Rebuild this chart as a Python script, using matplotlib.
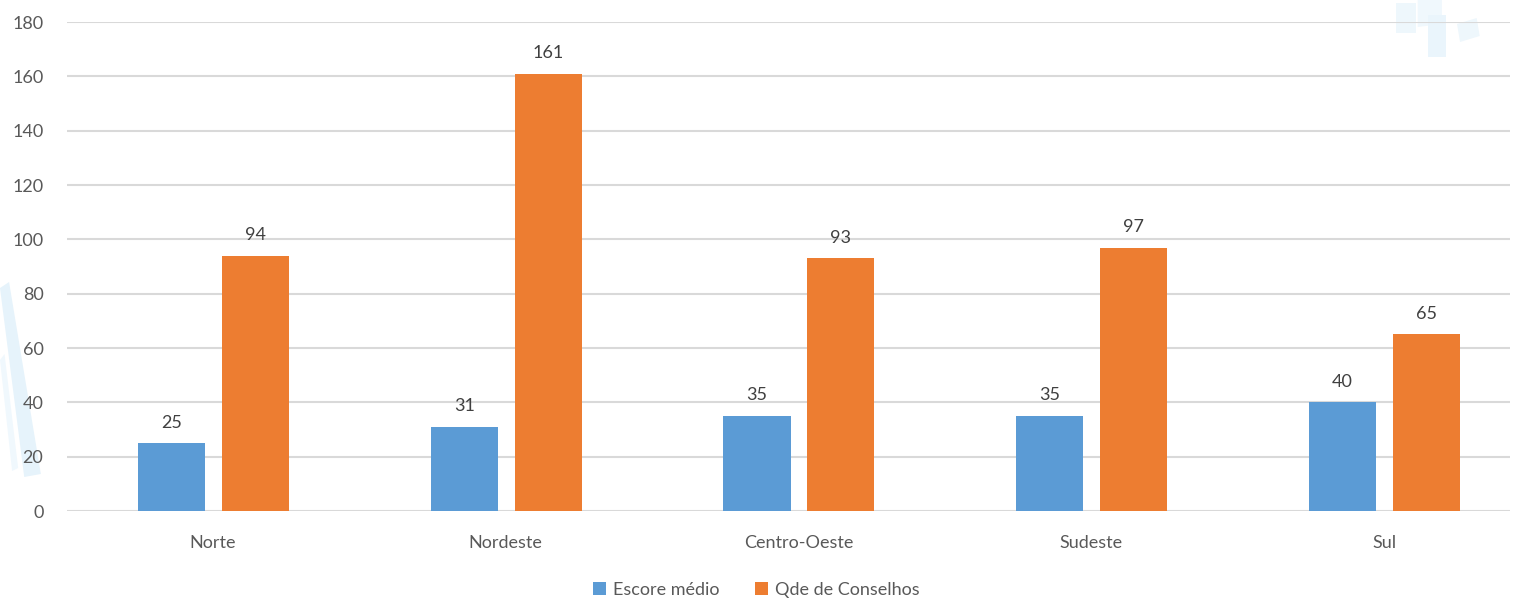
import matplotlib.pyplot as plt
from matplotlib.patches import Polygon
import numpy as np

regioes = ['Norte', 'Nordeste', 'Centro-Oeste', 'Sudeste', 'Sul']
escore_medio = [25, 31, 35, 35, 40]
qde_conselhos = [94, 161, 93, 97, 65]

azul = '#5B9BD5'
laranja = '#ED7D31'
cinza = '#595959'

plt.rcParams['font.family'] = ['Lato', 'DejaVu Sans']

fig = plt.figure(figsize=(15.13, 6), dpi=100)

# marca d'agua clara ao fundo
def fundo(pts, cor):
    fig.patches.append(Polygon(pts, closed=True, transform=fig.transFigure,
                               facecolor=cor, edgecolor='none', zorder=-5))

fundo([[0.0, 0.52], [0.006, 0.53], [0.027, 0.21], [0.016, 0.205]], '#E6F3FB')
fundo([[0.0, 0.40], [0.003, 0.41], [0.012, 0.22], [0.008, 0.215]], '#F0F8FD')
fundo([[0.923, 0.945], [0.936, 0.945], [0.936, 0.995], [0.923, 0.995]], '#EEF7FC')
fundo([[0.937, 0.955], [0.953, 0.96], [0.953, 1.0], [0.937, 1.0]], '#F0F8FD')
fundo([[0.944, 0.905], [0.956, 0.905], [0.956, 0.975], [0.944, 0.975]], '#EAF5FC')
fundo([[0.965, 0.93], [0.978, 0.94], [0.976, 0.97], [0.963, 0.96]], '#EEF7FC')

ax = fig.add_axes([0.0443, 0.1483, 0.9537, 0.815])
ax.patch.set_alpha(0)

x = np.arange(len(regioes))
larg = 0.229
b1 = ax.bar(x - 0.1416, escore_medio, larg, color=azul, label='Escore médio', zorder=3)
b2 = ax.bar(x + 0.145, qde_conselhos, larg, color=laranja, label='Qde de Conselhos', zorder=3)

for barras in (b1, b2):
    for b in barras:
        ax.annotate(f'{b.get_height():.0f}', (b.get_x() + b.get_width() / 2, b.get_height()),
                    xytext=(0, 9), textcoords='offset points', ha='center', va='bottom',
                    fontsize=13, color='#404040')

ax.set_ylim(0, 180)
ax.set_yticks(range(0, 181, 20))
ax.set_xlim(-0.498, 4.43)
ax.set_xticks(x)
ax.set_xticklabels(regioes)
ax.grid(axis='y', color='#D9D9D9', linewidth=1.5, zorder=0)
ax.tick_params(length=0, labelsize=13, labelcolor=cinza)
ax.tick_params(axis='y', pad=17)
ax.tick_params(axis='x', pad=17)
for s in ax.spines.values():
    s.set_visible(False)

fig.legend(handles=[b1, b2], loc='center', bbox_to_anchor=(0.5, 0.017), ncol=2,
           frameon=False, fontsize=13, labelcolor=cinza, handlelength=0.7,
           handleheight=0.7, handletextpad=0.4, columnspacing=2.0)

fig.savefig('out.png', dpi=100)
